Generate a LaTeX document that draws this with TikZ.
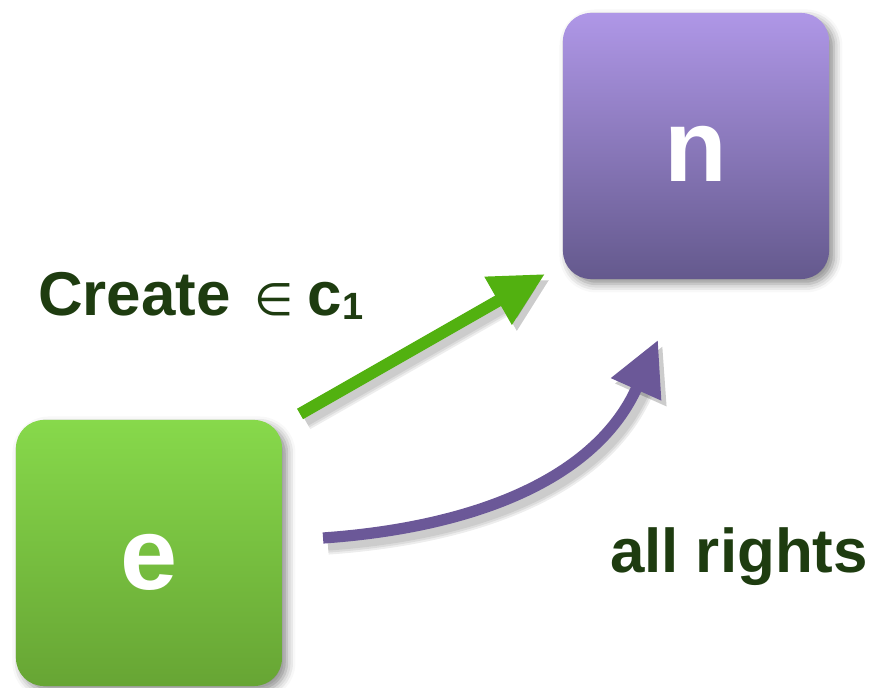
\documentclass[tikz,border=0pt]{standalone}
\usepackage{fontspec}
\setmainfont{Liberation Sans}
\newfontfamily\symbolfont{DejaVu Sans}
\usetikzlibrary{arrows.meta, positioning, shadows.blur}

\definecolor{greentop}{RGB}{135,217,75}
\definecolor{greenbot}{RGB}{103,165,52}
\definecolor{purpletop}{RGB}{175,151,231}
\definecolor{purplebot}{RGB}{100,89,141}
\definecolor{grantgreen}{RGB}{82,177,16}
\definecolor{allpurple}{RGB}{107,88,152}
\definecolor{labelgreen}{RGB}{30,60,16}

\begin{document}
\begin{tikzpicture}[x=0.025cm, y=0.025cm, line width=0.3cm,
  >={Triangle[length=1.35cm, width=1.3cm]}]
\tikzstyle{every node}=[font=\bfseries]
\tikzstyle{rightsbox}=[rectangle, rounded corners=0.7cm, minimum size=6.65cm,
  outer sep=0pt, text=white, text height=1.8cm, text depth=0pt,
  font=\fontsize{73}{80}\selectfont\bfseries,
  blur shadow={shadow xshift=3.5pt, shadow yshift=-3.5pt,
    shadow blur radius=6pt, shadow opacity=45}]
\tikzstyle{rightslabel}=[anchor=base west, inner sep=0pt, text=labelgreen,
  font=\fontsize{44}{50}\selectfont\bfseries]
\tikzstyle{arrowshade}=[black, opacity=0.07,
  transform canvas={shift={(0.12cm,-0.14cm)}}]
\useasboundingbox (0,0) rectangle (880,688);

\node[rightsbox, top color=greentop, bottom color=greenbot](e) at (149,135) {e};
\node[rightsbox, top color=purpletop, bottom color=purplebot](n) at (696,542) {n};

\node[rightslabel](create) at (32,372)
  {Create\hspace{0.6cm}{\symbolfont\mdseries\fontsize{32}{32}\selectfont ∈}\hspace{0.35cm}c\raisebox{-0.1cm}{\fontsize{27}{27}\selectfont 1}};
\node[rightslabel](allrights) at (604,115) {all rights};

% soft shadows under the two arrows
\foreach \w in {0.55,0.45,0.35}{
  \draw[->, arrowshade, line width=\w cm] ([shift={(18,6)}]e.north east) -- ([shift={(-18,5)}]n.south west);
  \draw[->, arrowshade, line width=\w cm] ([shift={(41,15)}]e.east) to[out=4, in=246] ([shift={(-38,-61)}]n.south);
}

\draw[->, grantgreen] ([shift={(18,6)}]e.north east) -- ([shift={(-18,5)}]n.south west);
\draw[->, allpurple, line width=0.28cm] ([shift={(41,15)}]e.east) to[out=4, in=246] ([shift={(-38,-61)}]n.south);
\end{tikzpicture}
\end{document}
